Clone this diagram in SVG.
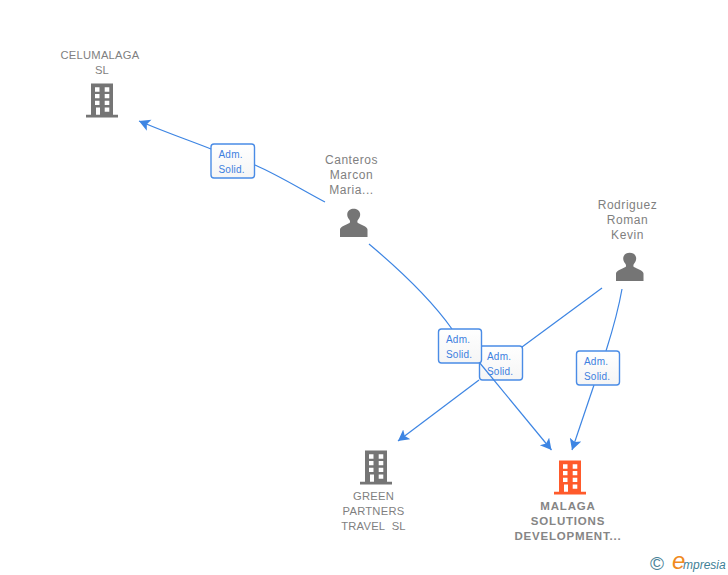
<svg xmlns="http://www.w3.org/2000/svg" width="728" height="575" viewBox="0 0 728 575">
<style>
text{font-family:"Liberation Sans",Arial,sans-serif}
.n{font-size:12px;fill:#7f7f7f;text-anchor:middle;letter-spacing:.55px}
.u{font-size:11.2px;fill:#7f7f7f;text-anchor:middle;letter-spacing:.25px}
.b{font-size:11.5px;font-weight:bold;fill:#858585;text-anchor:middle;letter-spacing:.8px}
.l{font-size:10px;fill:#3d7fe0;letter-spacing:.2px}
.box{fill:url(#g);stroke:#4a8ce6;stroke-width:1.4}
.c{fill:none;stroke:#3d85e3;stroke-width:1.2}
</style>
<defs>
<linearGradient id="g" x1="0" y1="0" x2="0" y2="1"><stop offset="0" stop-color="#fff"/><stop offset="1" stop-color="#f5f5f5"/></linearGradient>
<marker id="a" markerUnits="userSpaceOnUse" markerWidth="14" markerHeight="14" refX="11" refY="6" orient="auto"><path d="M0 0L11 6L0 12L2.5 6Z" fill="#3d85e3"/></marker>
<path id="bld" fill-rule="evenodd" d="M91 83.5H113V114.7H118V117.5H86V114.7H91ZM95 87.3V91.7H99.5V87.3ZM104.7 87.3V91.7H109.3V87.3ZM95 94V98.3H99.5V94ZM104.7 94V98.3H109.3V94ZM95 100.7V105H99.5V100.7ZM104.7 100.7V105H109.3V100.7ZM96 107.5V114.7H100V107.5ZM104.7 107.5V111.7H109.3V107.5Z"/>
<path id="per" d="M340 237V229.5C340 226.5 347 224.5 349.5 223C350.5 222 350 220.5 349.2 219.5C347.5 217.5 347 215.5 347.3 213.5C347.8 210.5 350.5 208.8 353.7 208.8C356.9 208.8 359.6 210.5 360.1 213.5C360.4 215.5 359.9 217.5 358.2 219.5C357.4 220.5 356.9 222 357.9 223C360.4 224.5 367.5 226.5 367.5 229.5V237Z" fill="#757575"/>
</defs>
<rect width="728" height="575" fill="#fff"/>
<g id="label-celumalaga"><rect class="box" x="211" y="144" width="43.500" height="34" rx="3"/><text class="l" x="218.500" y="157.500">Adm.</text><text class="l" x="218.500" y="172.500">Solid.</text></g>
<g id="label-green"><rect class="box" x="479.500" y="346" width="43" height="34" rx="3"/><text class="l" x="487" y="359.500">Adm.</text><text class="l" x="487" y="374.500">Solid.</text></g>
<g id="connectors">
<path class="c" d="M325 202C302 190 280 176 255 165"/>
<path class="c" d="M211 149C188 140 165 132 139 121" marker-end="url(#a)"/>
<path class="c" d="M369 244C400 270 430 298 452 329"/>
<path class="c" d="M479 362L551.500 450" marker-end="url(#a)"/>
<path class="c" d="M602 288L522 347"/>
<path class="c" d="M479 380L398 441" marker-end="url(#a)"/>
<path class="c" d="M622 289C618 312 612 332 606 351"/>
<path class="c" d="M594 385L572 450" marker-end="url(#a)"/>
</g>
<g id="label-malaga-1"><rect class="box" x="438.500" y="329" width="43" height="34" rx="3"/><text class="l" x="446" y="342.500">Adm.</text><text class="l" x="446" y="357.500">Solid.</text></g>
<g id="label-malaga-2"><rect class="box" x="576.500" y="351" width="43" height="34" rx="3"/><text class="l" x="584" y="364.500">Adm.</text><text class="l" x="584" y="379.500">Solid.</text></g>
<g id="celumalaga"><text class="u" x="100" y="59">CELUMALAGA</text><text class="u" x="102" y="74">SL</text><use href="#bld" fill="#757575"/></g>
<g id="canteros"><text class="n" x="351.500" y="164">Canteros</text><text class="n" x="351.500" y="179">Marcon</text><text class="n" x="351.500" y="194">Maria...</text><use href="#per"/></g>
<g id="rodriguez"><text class="n" x="627.500" y="209">Rodriguez</text><text class="n" x="627.500" y="224">Roman</text><text class="n" x="627.500" y="239">Kevin</text><use href="#per" x="276" y="44"/></g>
<g id="green"><use href="#bld" x="274" y="367" fill="#757575"/><text class="u" x="373.500" y="500">GREEN</text><text class="u" x="373.500" y="515">PARTNERS</text><text class="u" x="373.500" y="530" xml:space="preserve">TRAVEL  SL</text></g>
<g id="malaga"><use href="#bld" x="468" y="377" fill="#ff5a2b"/><text class="b" x="568" y="510">MALAGA</text><text class="b" x="568" y="525">SOLUTIONS</text><text class="b" x="568" y="540">DEVELOPMENT...</text></g>
<g id="logo"><text x="650" y="570" font-size="19" fill="#4a8298">©</text><text x="672" y="569" font-size="24" font-style="italic" fill="#f08a1d" font-family="Liberation Serif,serif">e</text><text x="683" y="569" font-size="12" font-style="italic" fill="#3f7f96" font-family="Liberation Serif,serif">mpresia</text></g>
</svg>
